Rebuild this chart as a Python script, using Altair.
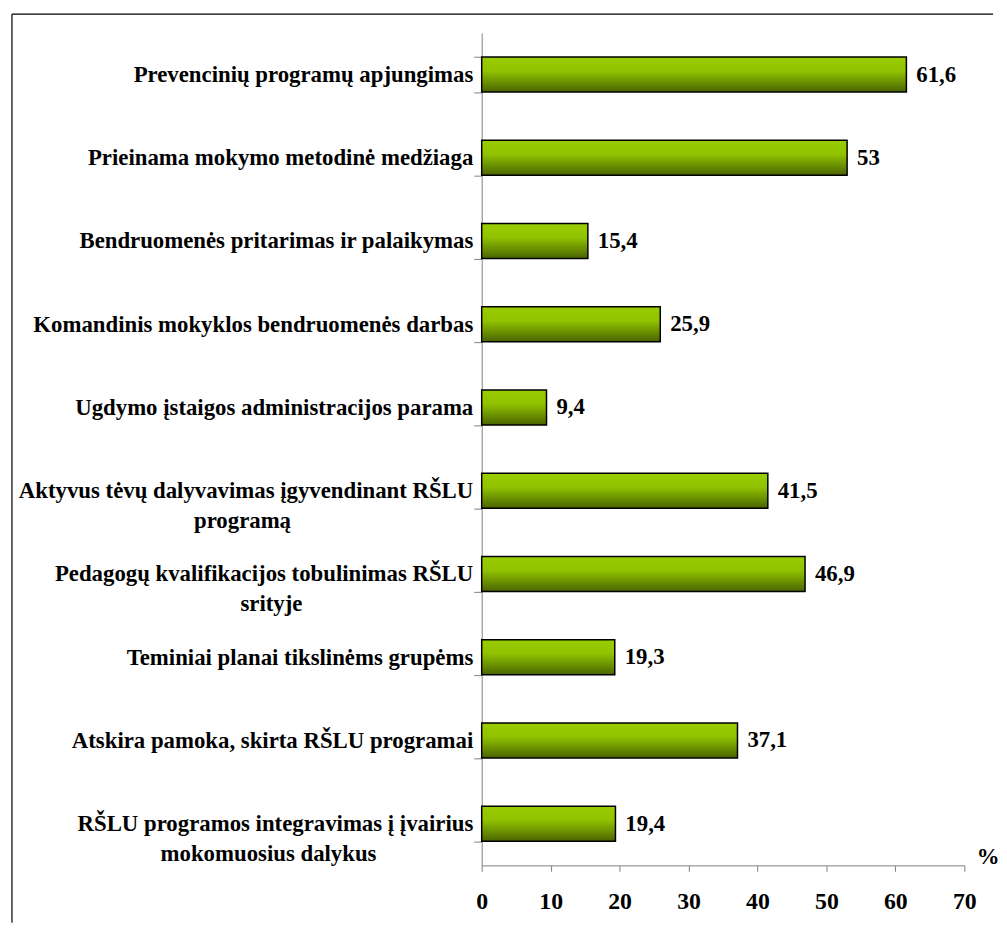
import altair as alt
import pandas as pd

categories = [
    "Prevencinių programų apjungimas",
    "Prieinama mokymo metodinė medžiaga",
    "Bendruomenės pritarimas ir palaikymas",
    "Komandinis mokyklos bendruomenės darbas",
    "Ugdymo įstaigos administracijos parama",
    "Aktyvus tėvų dalyvavimas įgyvendinant RŠLU programą",
    "Pedagogų kvalifikacijos tobulinimas RŠLU srityje",
    "Teminiai planai tikslinėms grupėms",
    "Atskira pamoka, skirta RŠLU programai",
    "RŠLU programos integravimas į įvairius mokomuosius dalykus",
]
values = [61.6, 53, 15.4, 25.9, 9.4, 41.5, 46.9, 19.3, 37.1, 19.4]
value_labels = ["61,6", "53", "15,4", "25,9", "9,4", "41,5", "46,9", "19,3", "37,1", "19,4"]
x_ticks = [0, 10, 20, 30, 40, 50, 60, 70]

df = pd.DataFrame({"cat": categories, "val": values, "lab": value_labels})

FONT = "Liberation Serif"
FS = 23
NB = "\u00a0"
ZW = "\u200b"


def two_lines(full, first, second, pad):
    # second line is visually centred under the first (padded, right-aligned block)
    return f"datum.value == '{full}' ? ['{first}', '{second}{NB * pad}{ZW}'] : "


label_expr = (
    two_lines(categories[5], "Aktyvus tėvų dalyvavimas įgyvendinant RŠLU", "programą", 32)
    + two_lines(categories[6], "Pedagogų kvalifikacijos tobulinimas RŠLU", "srityje", 30)
    + two_lines(categories[9], "RŠLU programos integravimas į įvairius", "mokomuosius dalykus", 17)
    + "datum.value"
)

y_enc = alt.Y(
    "cat:N",
    sort=None,
    scale=alt.Scale(paddingInner=0.58, paddingOuter=0.29),
    axis=alt.Axis(
        title=None,
        tickBand="extent",
        tickSize=8,
        tickColor="#808080",
        domainColor="#808080",
        labelFont=FONT,
        labelFontSize=FS,
        labelFontWeight="bold",
        labelColor="black",
        labelPadding=1,
        labelLimit=700,
        labelLineHeight=30,
        labelExpr=label_expr,
    ),
)

x_enc = alt.X(
    "val:Q",
    scale=alt.Scale(domain=[0, 70], nice=False),
    axis=alt.Axis(
        values=x_ticks,
        title="%",
        titleFont=FONT,
        titleFontSize=FS,
        titleFontWeight="bold",
        titleAngle=0,
        titleAlign="left",
        titleBaseline="alphabetic",
        titleX=499,
        titleY=-2,
        grid=False,
        tickSize=6,
        tickColor="#808080",
        domainColor="#808080",
        labelFont=FONT,
        labelFontSize=24,
        labelFontWeight="bold",
        labelColor="black",
        labelPadding=19,
        labelFlush=False,
    ),
)

gradient = alt.Gradient(
    gradient="linear",
    stops=[
        alt.GradientStop(color="#9ACD00", offset=0),
        alt.GradientStop(color="#90C200", offset=0.4),
        alt.GradientStop(color="#4A6400", offset=1),
    ],
    x1=0, x2=0, y1=0, y2=1,
)

bars = alt.Chart(df).mark_bar(color=gradient, stroke="black", strokeWidth=1.5).encode(
    y=y_enc, x=x_enc
)

texts = alt.Chart(df).mark_text(
    align="left", baseline="middle", dx=10, font=FONT, fontSize=FS, fontWeight="bold", color="black"
).encode(y=alt.Y("cat:N", sort=None), x="val:Q", text="lab:N")

one = pd.DataFrame({"a": [0]})
frame_top = alt.Chart(one).mark_rule(stroke="black", strokeWidth=1.2).encode(
    x=alt.value(-474), x2=alt.value(516), y=alt.value(-19)
)
frame_left = alt.Chart(one).mark_rule(stroke="black", strokeWidth=1.2).encode(
    x=alt.value(-474), y=alt.value(-19), y2=alt.value(898)
)

chart = (
    alt.layer(frame_top, frame_left, bars, texts)
    .properties(width=487, height=840, padding={"left": 3, "top": 1, "right": 0, "bottom": 0})
    .configure_view(stroke=None)
)

chart.save("out.html", embed_options={"renderer": "svg", "actions": False})
